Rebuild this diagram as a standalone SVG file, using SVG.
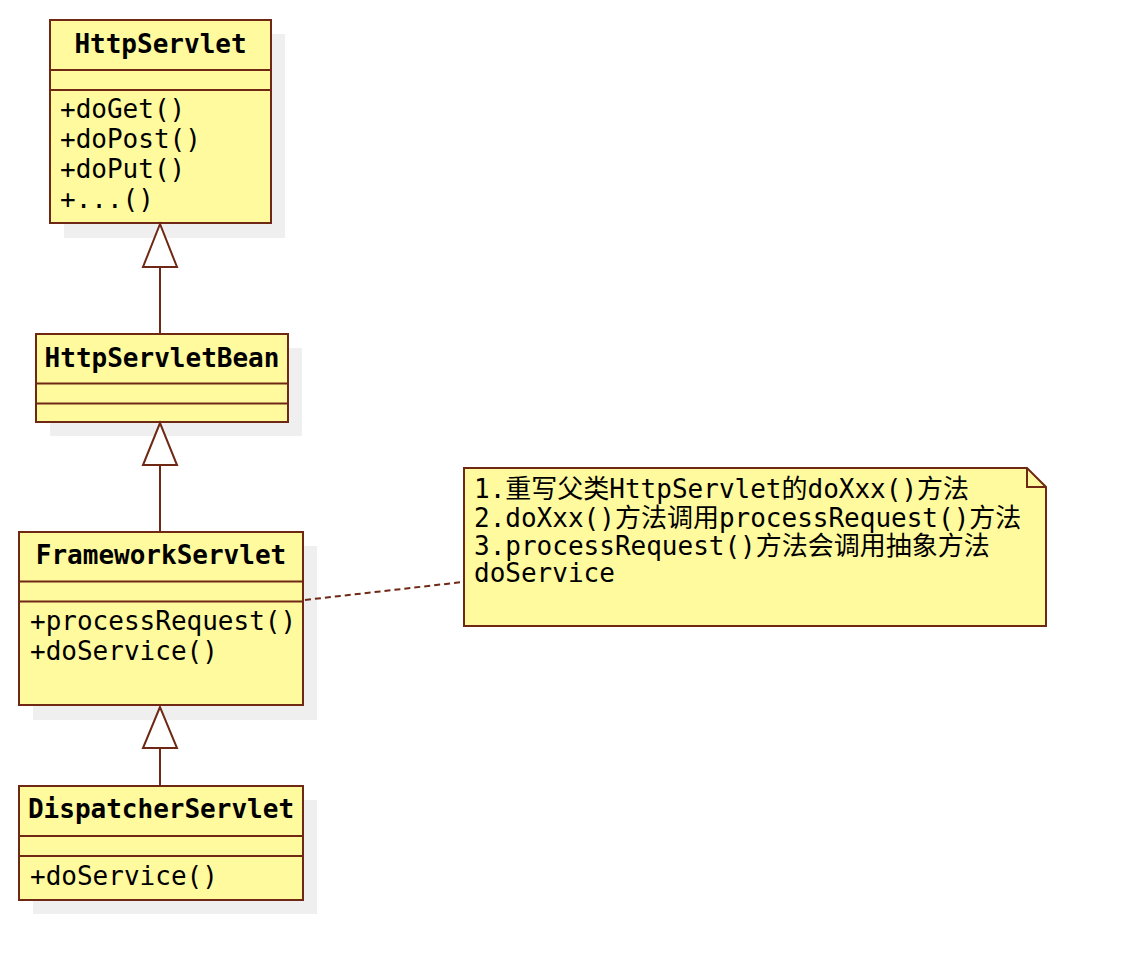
<svg xmlns="http://www.w3.org/2000/svg" width="1126" height="980" viewBox="0 0 1126 980">
<style>
.sh{fill:#efefef;stroke:none}
.box{fill:#fffa9e;stroke:#6e2814;stroke-width:2}
.ln{stroke:#6e2814;stroke-width:2;fill:none}
.tri{fill:#ffffff;stroke:#6e2814;stroke-width:2}
.t{font-family:"DejaVu Sans Mono","Noto Sans CJK SC",monospace;font-size:26px;fill:#000}
.b{font-weight:bold;text-anchor:middle}
.dash{stroke:#6e2814;stroke-width:2;stroke-dasharray:6,4;fill:none}
</style>
<rect width="1126" height="980" fill="#ffffff"/>
<g id="HttpServlet">
  <rect class="sh" x="64" y="34" width="221" height="204"/>
  <rect class="box" x="50" y="20" width="221" height="203"/>
  <line class="ln" x1="50" y1="70" x2="271" y2="70"/>
  <line class="ln" x1="50" y1="90" x2="271" y2="90"/>
  <text class="t b" x="160.5" y="53">HttpServlet</text>
  <text class="t" x="60" y="118">+doGet()</text>
  <text class="t" x="60" y="148">+doPost()</text>
  <text class="t" x="60" y="178">+doPut()</text>
  <text class="t" x="60" y="208">+...()</text>
</g>
<g id="HttpServletBean">
  <rect class="sh" x="50" y="348" width="252" height="88"/>
  <rect class="box" x="36" y="334" width="252" height="88"/>
  <line class="ln" x1="36" y1="383.5" x2="288" y2="383.5"/>
  <line class="ln" x1="36" y1="403.5" x2="288" y2="403.5"/>
  <text class="t b" x="162" y="367">HttpServletBean</text>
</g>
<g id="FrameworkServlet">
  <rect class="sh" x="33" y="546" width="284" height="174"/>
  <rect class="box" x="19" y="532" width="284" height="173"/>
  <line class="ln" x1="19" y1="581.5" x2="303" y2="581.5"/>
  <line class="ln" x1="19" y1="601.5" x2="303" y2="601.5"/>
  <text class="t b" x="161" y="564">FrameworkServlet</text>
  <text class="t" x="30" y="630">+processRequest()</text>
  <text class="t" x="30" y="660">+doService()</text>
</g>
<g id="DispatcherServlet">
  <rect class="sh" x="33" y="800" width="284" height="114"/>
  <rect class="box" x="19" y="786" width="284" height="114"/>
  <line class="ln" x1="19" y1="836" x2="303" y2="836"/>
  <line class="ln" x1="19" y1="856" x2="303" y2="856"/>
  <text class="t b" x="161" y="818">DispatcherServlet</text>
  <text class="t" x="30" y="885">+doService()</text>
</g>
<g id="note">
  <path class="box" d="M464,468 L1027,468 L1046,487 L1046,626 L464,626 Z"/>
  <path class="ln" d="M1027,468 L1027,487 L1046,487"/>
  <text class="t" x="474" y="498">1.重写父类HttpServlet的doXxx()方法</text>
  <text class="t" x="474" y="527">2.doXxx()方法调用processRequest()方法</text>
  <text class="t" x="474" y="555">3.processRequest()方法会调用抽象方法</text>
  <text class="t" x="474" y="582">doService</text>
</g>
<g id="connectors">
  <line class="ln" x1="160" y1="267" x2="160" y2="333"/>
  <polygon class="tri" points="160,224 143,267 177,267"/>
  <line class="ln" x1="160" y1="465" x2="160" y2="531"/>
  <polygon class="tri" points="160,423 143,465 177,465"/>
  <line class="ln" x1="160" y1="748" x2="160" y2="785"/>
  <polygon class="tri" points="160,707 143,748 177,748"/>
  <line class="dash" x1="305" y1="600" x2="463" y2="582"/>
</g>
</svg>
